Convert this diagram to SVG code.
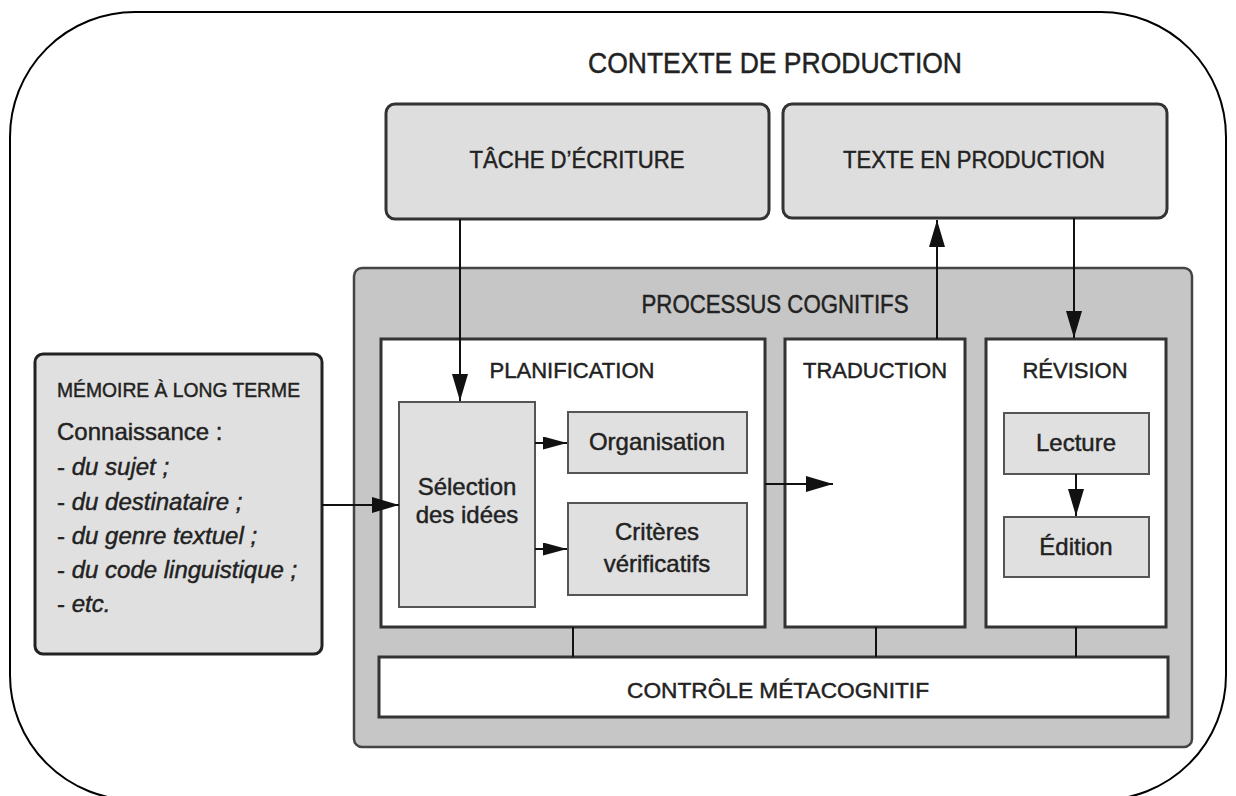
<svg xmlns="http://www.w3.org/2000/svg" width="1236" height="796" viewBox="0 0 1236 796">
<style>
text{font-family:"Liberation Sans",Arial,sans-serif;fill:#222;stroke:#222;stroke-width:0.45;}
.cap{text-anchor:middle;}
.top{fill:#dedede;stroke:#333;stroke-width:3;}
.inner{fill:#fff;stroke:#333;stroke-width:3;}
.small{fill:#e0e0e0;stroke:#555;stroke-width:2;}
.conn line{stroke:#111;stroke-width:2;fill:none;}
.body{font-size:24px;}
.it{font-style:italic;}
</style>
<defs>
<marker id="ah" markerUnits="userSpaceOnUse" markerWidth="28" markerHeight="18" refX="27" refY="8" orient="auto">
<path d="M0,0 L27,8 L0,16 z" fill="#111"/>
</marker>
<marker id="as" markerUnits="userSpaceOnUse" markerWidth="26" markerHeight="14" refX="24" refY="6.5" orient="auto">
<path d="M0,0 L24,6.5 L0,13 z" fill="#111"/>
</marker>
</defs>
<rect x="0" y="0" width="1236" height="796" fill="#fff"/>
<g id="contexte">
<rect x="10" y="12" width="1216" height="788" rx="125" fill="#fff" stroke="#000" stroke-width="2"/>
<text x="775" y="73" class="cap" font-size="29" textLength="374" lengthAdjust="spacingAndGlyphs">CONTEXTE DE PRODUCTION</text>
</g>
<g id="tache">
<rect class="top" x="386" y="104" width="383" height="115" rx="9"/>
<text x="577" y="168" class="cap" font-size="24" textLength="215" lengthAdjust="spacingAndGlyphs">TÂCHE D’ÉCRITURE</text>
</g>
<g id="texte">
<rect class="top" x="783" y="104" width="384" height="114" rx="9"/>
<text x="974" y="168" class="cap" font-size="24" textLength="262" lengthAdjust="spacingAndGlyphs">TEXTE EN PRODUCTION</text>
</g>
<g id="processus">
<rect x="354" y="268" width="838" height="479" rx="8" fill="#c6c6c6" stroke="#444" stroke-width="2.5"/>
<text x="775" y="313" class="cap" font-size="25" textLength="267" lengthAdjust="spacingAndGlyphs">PROCESSUS COGNITIFS</text>
</g>
<g id="planification">
<rect class="inner" x="381" y="339" width="384" height="288"/>
<text x="572" y="378" class="cap" font-size="22" textLength="165" lengthAdjust="spacingAndGlyphs">PLANIFICATION</text>
</g>
<g id="selection">
<rect class="small" x="399" y="402" width="136" height="205"/>
<text x="467" y="495" class="cap body">Sélection</text>
<text x="467" y="523" class="cap body">des idées</text>
</g>
<g id="organisation">
<rect class="small" x="568" y="412" width="179" height="61"/>
<text x="657" y="450" class="cap body">Organisation</text>
</g>
<g id="criteres">
<rect class="small" x="568" y="503" width="179" height="92"/>
<text x="657" y="540" class="cap body">Critères</text>
<text x="657" y="572" class="cap body">vérificatifs</text>
</g>
<g id="traduction">
<rect class="inner" x="785" y="339" width="180" height="288"/>
<text x="875" y="378" class="cap" font-size="22" textLength="144" lengthAdjust="spacingAndGlyphs">TRADUCTION</text>
</g>
<g id="revision">
<rect class="inner" x="986" y="339" width="180" height="288"/>
<text x="1075" y="378" class="cap" font-size="22" textLength="105" lengthAdjust="spacingAndGlyphs">RÉVISION</text>
</g>
<g id="lecture">
<rect class="small" x="1004" y="413" width="145" height="61"/>
<text x="1076" y="451" class="cap body">Lecture</text>
</g>
<g id="edition">
<rect class="small" x="1004" y="517" width="145" height="60"/>
<text x="1076" y="555" class="cap body">Édition</text>
</g>
<g id="metacognitif">
<rect class="inner" x="379" y="657" width="789" height="60"/>
<text x="778" y="698" class="cap" font-size="22" textLength="302" lengthAdjust="spacingAndGlyphs">CONTRÔLE MÉTACOGNITIF</text>
</g>
<g id="memoire">
<rect x="35" y="354" width="287" height="300" rx="8" fill="#e0e0e0" stroke="#222" stroke-width="3"/>
<text x="57" y="397" font-size="20" textLength="243" lengthAdjust="spacingAndGlyphs">MÉMOIRE À LONG TERME</text>
<text x="57" y="440" class="body">Connaissance :</text>
<text x="57" y="475" class="body">- <tspan class="it">du sujet ;</tspan></text>
<text x="57" y="510" class="body">- <tspan class="it">du destinataire ;</tspan></text>
<text x="57" y="544" class="body">- <tspan class="it">du genre textuel ;</tspan></text>
<text x="57" y="578" class="body">- <tspan class="it">du code linguistique ;</tspan></text>
<text x="57" y="612" class="body">- <tspan class="it">etc.</tspan></text>
</g>
<g id="connectors" class="conn">
<line x1="460" y1="219" x2="460" y2="401" marker-end="url(#ah)"/>
<line x1="937" y1="339" x2="937" y2="220" marker-end="url(#ah)"/>
<line x1="1074" y1="218" x2="1074" y2="338" marker-end="url(#ah)"/>
<line x1="322" y1="505" x2="399" y2="505" marker-end="url(#ah)"/>
<line x1="535" y1="443" x2="567" y2="443" marker-end="url(#as)"/>
<line x1="535" y1="549" x2="567" y2="549" marker-end="url(#as)"/>
<line x1="765" y1="484" x2="833" y2="484" marker-end="url(#ah)"/>
<line x1="1076" y1="474" x2="1076" y2="516" marker-end="url(#ah)"/>
<line x1="573" y1="627" x2="573" y2="657"/>
<line x1="876" y1="627" x2="876" y2="657"/>
<line x1="1076" y1="627" x2="1076" y2="657"/>
</g>
</svg>
